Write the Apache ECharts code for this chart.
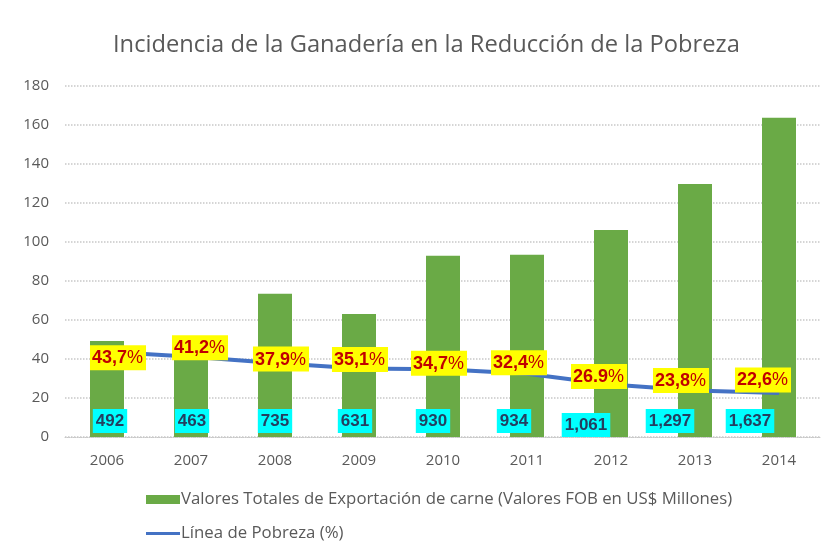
<!DOCTYPE html>
<html><head><meta charset="utf-8">
<script src="https://cdn.jsdelivr.net/npm/echarts@6/dist/echarts.min.js"></script>
<style>html,body{margin:0;padding:0;background:#fff}#c{width:830px;height:551px}</style>
</head><body><div id="c"></div>
<script>
const years = ['2006','2007','2008','2009','2010','2011','2012','2013','2014'];
const exportValues = [492, 463, 735, 631, 930, 934, 1061, 1297, 1637];
const exportLabels = ['492','463','735','631','930','934','1,061','1,297','1,637'];
const povertyValues = [43.7, 41.2, 37.9, 35.1, 34.7, 32.4, 26.9, 23.8, 22.6];
const povertyLabels = ['43,7','41,2','37,9','35,1','34,7','32,4','26.9','23,8','22,6'];
const yTicks = [0, 20, 40, 60, 80, 100, 120, 140, 160, 180];

// label placement tweaks (style only)
const povOffsets = [[11,6],[9,-9],[6,-4],[1,-9],[-4,-6],[-8,-11],[-12,-8],[-14,-10],[-16,-13]];
const expOffsets = [[3,0],[1,0],[0,0],[-4,0],[-10,0],[-13,0],[-25,4],[-25,0],[-29,0]];

const chart = echarts.init(document.getElementById('c'));
chart.setOption({
  animation: false,
  backgroundColor: '#fff',
  title: {
    text: 'Incidencia de la Ganadería en la Reducción de la Pobreza',
    left: 108, top: 28,
    textStyle: { fontFamily: 'Open Sans', fontSize: 23.7, fontWeight: 'normal', color: '#595959' }
  },
  grid: { left: 65, right: 9, top: 86, bottom: 114 },
  legend: {
    orient: 'vertical', left: 141, top: 486, itemGap: 17,
    itemWidth: 34, itemHeight: 9,
    textStyle: { fontFamily: 'Open Sans', fontSize: 16.8, color: '#595959', padding: [0,0,0,-4] },
    data: [
      { name: 'Valores Totales de Exportación de carne (Valores FOB en US$ Millones)', icon: 'rect' },
      { name: 'Línea de Pobreza (%)', icon: 'path://M0,0 H34 V3 H0 Z' }
    ]
  },
  xAxis: {
    type: 'category', data: years,
    axisLine: { show: true, lineStyle: { color: '#c8c8c8', type: 'dotted', width: 1 } },
    axisTick: { show: false },
    axisLabel: { color: '#595959', fontFamily: 'Open Sans', fontSize: 15, margin: 16 }
  },
  yAxis: {
    type: 'value', min: yTicks[0], max: yTicks[yTicks.length-1], interval: 20,
    axisLine: { show: false }, axisTick: { show: false },
    axisLabel: { color: '#595959', fontFamily: 'Open Sans', fontSize: 15, margin: 16 },
    splitLine: { lineStyle: { color: '#c8c8c8', type: 'dotted', width: 1.5 } }
  },
  series: [
    {
      name: 'Valores Totales de Exportación de carne (Valores FOB en US$ Millones)',
      type: 'bar', barWidth: 34, z: 2,
      itemStyle: { color: '#6aaa46' },
      data: exportValues.map((v, i) => ({
        value: v / 10,
        label: {
          show: true, position: 'insideBottom', distance: 4, offset: expOffsets[i],
          formatter: exportLabels[i],
          backgroundColor: '#00FFFF', color: '#243f60',
          fontFamily: 'Liberation Sans', fontWeight: 'bold', fontSize: 17, padding: [4, 3, 3, 3]
        }
      }))
    },
    {
      name: 'Línea de Pobreza (%)',
      type: 'line', z: 3, symbol: 'circle', symbolSize: 1, showSymbol: true, smooth: false,
      lineStyle: { color: '#4472C4', width: 4 },
      itemStyle: { color: '#4472C4' },
      data: povertyValues.map((v, i) => ({
        value: v,
        label: {
          show: true, position: 'inside', offset: povOffsets[i],
          formatter: '{b|' + povertyLabels[i] + '}{p|%}',
          backgroundColor: '#FFFF00', padding: [4, 3, 3, 2],
          rich: {
            b: { color: '#c00000', fontFamily: 'Liberation Sans', fontWeight: 'bold', fontSize: 18 },
            p: { color: '#c00000', fontFamily: 'Liberation Sans', fontWeight: 'normal', fontSize: 18 }
          }
        }
      }))
    }
  ]
});
</script></body></html>
